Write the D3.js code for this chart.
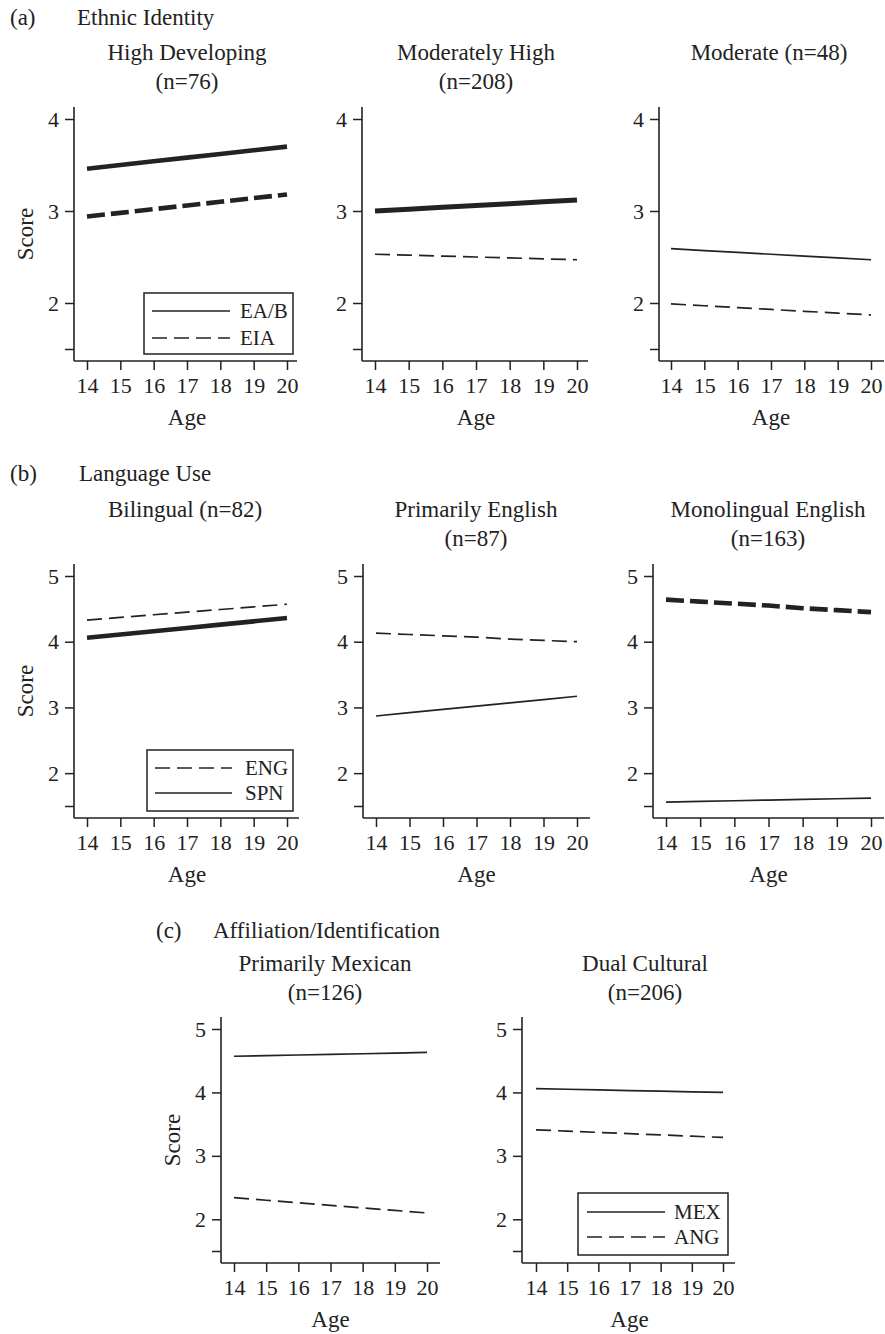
<!DOCTYPE html>
<html>
<head>
<meta charset="utf-8">
<script src="https://cdn.jsdelivr.net/npm/d3@7"></script>
<style>
  body { margin: 0; background: #fff; }
  text { font-family: "Liberation Serif", "Times New Roman", serif; fill: #222; }
</style>
</head>
<body>
<div class="canvas"></div>
<script>
const svgWidth = 885;
const svgHeight = 1334;

// ages on the x axis
const ages = [14, 15, 16, 17, 18, 19, 20];

// (a) Ethnic Identity: EA/B and EIA scores per class
const highDevEAB = [3.46, 3.50, 3.54, 3.58, 3.62, 3.66, 3.70];
const highDevEIA = [2.94, 2.98, 3.02, 3.06, 3.10, 3.14, 3.18];
const modHighEAB = [3.00, 3.02, 3.04, 3.06, 3.08, 3.10, 3.12];
const modHighEIA = [2.53, 2.52, 2.51, 2.50, 2.49, 2.48, 2.47];
const moderateEAB = [2.59, 2.57, 2.55, 2.53, 2.51, 2.49, 2.47];
const moderateEIA = [1.99, 1.97, 1.95, 1.93, 1.91, 1.89, 1.87];

// (b) Language Use: ENG and SPN scores per class
const bilingualENG = [4.33, 4.37, 4.41, 4.45, 4.49, 4.53, 4.57];
const bilingualSPN = [4.06, 4.11, 4.16, 4.21, 4.26, 4.31, 4.36];
const primEngENG = [4.13, 4.11, 4.09, 4.07, 4.04, 4.02, 4.00];
const primEngSPN = [2.87, 2.92, 2.97, 3.02, 3.07, 3.12, 3.17];
const monoEngENG = [4.64, 4.61, 4.58, 4.55, 4.51, 4.48, 4.45];
const monoEngSPN = [1.56, 1.57, 1.58, 1.59, 1.60, 1.61, 1.62];

// (c) Affiliation/Identification: MEX and ANG scores per class
const primMexMEX = [4.57, 4.58, 4.59, 4.60, 4.61, 4.62, 4.63];
const primMexANG = [2.34, 2.30, 2.26, 2.22, 2.18, 2.14, 2.10];
const dualMEX = [4.06, 4.05, 4.04, 4.03, 4.02, 4.01, 4.00];
const dualANG = [3.41, 3.39, 3.37, 3.35, 3.33, 3.31, 3.29];

// tick values
const yTicksA = [1.5, 2, 3, 4];
const yTicksBC = [1.5, 2, 3, 4, 5];

const svg = d3.select('.canvas')
    .append('svg')
    .attr('width', svgWidth)
    .attr('height', svgHeight);

const ink = '#222';
const thin = 1.7;
const thick = 4.6;
const thinDash = '15,7';
const thickDash = '18,6';
const fs = 23;     // titles and axis names
const tickFs = 22; // tick labels

// panel layout: axis left edge, x of 14 and 20, axis right edge, plot top/bottom
const rows = {
    a: { top: 107, bottom: 361, yMax: 4, ticks: yTicksA },
    b: { top: 564, bottom: 818, yMax: 5, ticks: yTicksBC },
    c: { top: 1017, bottom: 1263, yMax: 5, ticks: yTicksBC }
};

const panels = [
    { row: 'a', left: 74, x0: 87, x1: 287, right: 297, score: true, titleX: 187,
      title: ['High Developing', '(n=76)'],
      series: [{ v: highDevEAB, w: thick }, { v: highDevEIA, w: thick, dash: thickDash }] },
    { row: 'a', left: 362, x0: 375, x1: 577, right: 588, titleX: 476,
      title: ['Moderately High', '(n=208)'],
      series: [{ v: modHighEAB, w: thick + 0.4 }, { v: modHighEIA, w: thin, dash: thinDash }] },
    { row: 'a', left: 659, x0: 671, x1: 871, right: 884, titleX: 769,
      title: ['Moderate (n=48)'],
      series: [{ v: moderateEAB, w: thin }, { v: moderateEIA, w: thin, dash: thinDash }] },
    { row: 'b', left: 74, x0: 87, x1: 287, right: 299, score: true, titleX: 185,
      title: ['Bilingual (n=82)'],
      series: [{ v: bilingualENG, w: thin, dash: thinDash }, { v: bilingualSPN, w: thick }] },
    { row: 'b', left: 363, x0: 376, x1: 577, right: 590, titleX: 476,
      title: ['Primarily English', '(n=87)'],
      series: [{ v: primEngENG, w: thin, dash: thinDash }, { v: primEngSPN, w: thin }] },
    { row: 'b', left: 653, x0: 666, x1: 871, right: 884, titleX: 768,
      title: ['Monolingual English', '(n=163)'],
      series: [{ v: monoEngENG, w: thick, dash: thickDash }, { v: monoEngSPN, w: thin }] },
    { row: 'c', left: 221, x0: 234, x1: 427, right: 440, score: true, titleX: 325,
      title: ['Primarily Mexican', '(n=126)'],
      series: [{ v: primMexMEX, w: thin }, { v: primMexANG, w: thin, dash: thinDash }] },
    { row: 'c', left: 522, x0: 536, x1: 723, right: 735, titleX: 645,
      title: ['Dual Cultural', '(n=206)'],
      series: [{ v: dualMEX, w: thin }, { v: dualANG, w: thin, dash: thinDash }] }
];

// section headings
const sections = [
    { tag: '(a)', x: 10, name: 'Ethnic Identity', nx: 77, y: 17 },
    { tag: '(b)', x: 10, name: 'Language Use', nx: 79, y: 473 },
    { tag: '(c)', x: 156, name: 'Affiliation/Identification', nx: 213, y: 930 }
];

// legends (box and items)
const legends = [
    { box: [144, 293, 149, 61], lx: [152, 230], tx: 240,
      items: [{ label: 'EA/B', y: 311 }, { label: 'EIA', y: 338, dash: thinDash }] },
    { box: [147, 750, 146, 61], lx: [155, 232], tx: 245,
      items: [{ label: 'ENG', y: 768, dash: thinDash }, { label: 'SPN', y: 793 }] },
    { box: [578, 1193, 150, 62], lx: [587, 665], tx: 674,
      items: [{ label: 'MEX', y: 1212 }, { label: 'ANG', y: 1237, dash: thinDash }] }
];

sections.forEach(s => {
    svg.append('text').attr('x', s.x).attr('y', s.y)
        .attr('dominant-baseline', 'central').attr('font-size', fs).text(s.tag);
    svg.append('text').attr('x', s.nx).attr('y', s.y)
        .attr('dominant-baseline', 'central').attr('font-size', fs).text(s.name);
});

panels.forEach(p => {
    const r = rows[p.row];
    const g = svg.append('g');

    const x = d3.scaleLinear().domain([14, 20]).range([p.x0, p.x1]);
    const y = d3.scaleLinear().domain([1.5, r.yMax]).range([r.bottom - 12, r.top + 12]);

    // axes
    const xAxis = d3.axisBottom(x).tickValues(ages).tickSize(9).tickSizeOuter(0).tickPadding(7)
        .tickFormat(d3.format('d'));
    const yAxis = d3.axisLeft(y).tickValues(r.ticks).tickSize(9).tickSizeOuter(0).tickPadding(6)
        .tickFormat(d => d === 1.5 ? '' : d3.format('d')(d));

    const xg = g.append('g').attr('transform', `translate(0, ${r.bottom})`).call(xAxis);
    const yg = g.append('g').attr('transform', `translate(${p.left}, 0)`).call(yAxis);
    [xg, yg].forEach(a => {
        a.select('.domain').remove();
        a.selectAll('line').attr('stroke', ink).attr('stroke-width', 1.5);
        a.selectAll('text').attr('font-size', tickFs).attr('font-family', '"Liberation Serif", serif').attr('fill', ink);
    });
    xg.selectAll('text').attr('dy', '0.72em');

    g.append('line').attr('x1', p.left).attr('x2', p.right)
        .attr('y1', r.bottom).attr('y2', r.bottom).attr('stroke', ink).attr('stroke-width', 1.6);
    g.append('line').attr('x1', p.left).attr('x2', p.left)
        .attr('y1', r.top).attr('y2', r.bottom).attr('stroke', ink).attr('stroke-width', 1.6);

    // axis titles
    g.append('text').attr('x', (p.x0 + p.x1) / 2).attr('y', r.bottom + 56)
        .attr('text-anchor', 'middle').attr('dominant-baseline', 'central')
        .attr('font-size', fs).text('Age');
    if (p.score) {
        const cy = (r.top + r.bottom) / 2;
        g.append('text').attr('transform', `translate(${p.left - 49}, ${cy}) rotate(-90)`)
            .attr('text-anchor', 'middle').attr('dominant-baseline', 'central')
            .attr('font-size', fs).text('Score');
    }

    // panel title
    const titleY = { a: 52, b: 509, c: 963 }[p.row];
    p.title.forEach((t, i) => {
        g.append('text').attr('x', p.titleX).attr('y', titleY + i * 29)
            .attr('text-anchor', 'middle').attr('dominant-baseline', 'central')
            .attr('font-size', fs).text(t);
    });

    // lines
    const line = d3.line().x((d, i) => x(ages[i])).y(d => y(d));
    p.series.forEach(s => {
        g.append('path').datum(s.v)
            .attr('d', line)
            .attr('fill', 'none')
            .attr('stroke', ink)
            .attr('stroke-width', s.w)
            .attr('stroke-dasharray', s.dash || null);
    });
});

legends.forEach(l => {
    const g = svg.append('g');
    g.append('rect').attr('x', l.box[0]).attr('y', l.box[1])
        .attr('width', l.box[2]).attr('height', l.box[3])
        .attr('fill', '#fff').attr('stroke', ink).attr('stroke-width', 1.5);
    l.items.forEach(it => {
        g.append('line').attr('x1', l.lx[0]).attr('x2', l.lx[1])
            .attr('y1', it.y).attr('y2', it.y)
            .attr('stroke', ink).attr('stroke-width', thin)
            .attr('stroke-dasharray', it.dash || null);
        g.append('text').attr('x', l.tx).attr('y', it.y)
            .attr('dominant-baseline', 'central').attr('font-size', 21).text(it.label);
    });
});
</script>
</body>
</html>
